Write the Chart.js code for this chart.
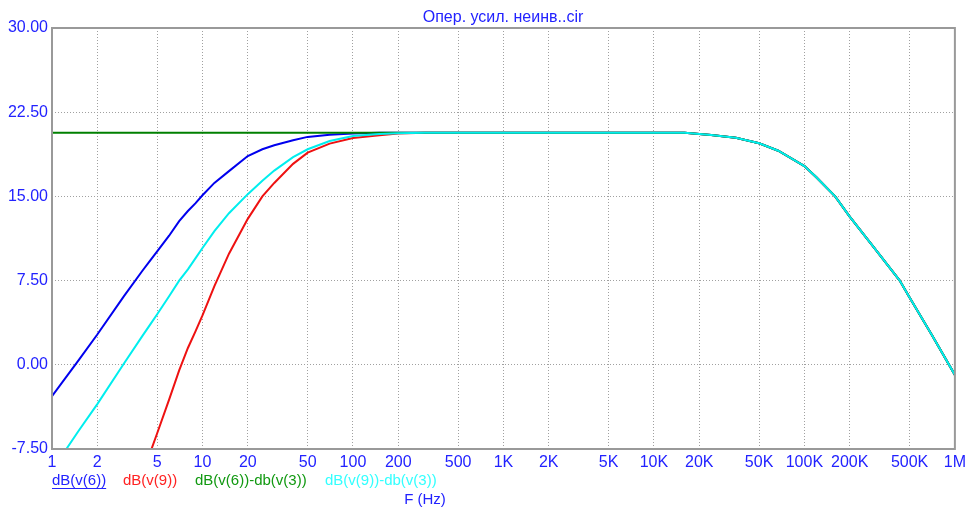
<!DOCTYPE html>
<html>
<head>
<meta charset="utf-8">
<script src="https://cdn.jsdelivr.net/npm/chart.js@4/dist/chart.umd.min.js"></script>
<style>
  body { margin: 0; background: #fff; }
  #wrap { width: 970px; height: 507px; }
</style>
</head>
<body>
<div id="wrap"><canvas id="bode"></canvas></div>
<script>
// frequency points (Hz) and the values (dB)
const freq = [1, 1.5, 2, 3, 4, 4.5, 5, 6, 7, 8, 9,
  10, 12, 15, 20, 25, 30, 40, 50, 70, 100,
  150, 200, 300, 500, 1000, 2000, 5000, 10000, 16000, 24000,
  35000, 50000, 67000, 100000, 120000, 160000, 200000, 300000, 430000, 500000,
  700000, 1000000];

const dbV6 = [-2.8, 0.4, 2.7, 6.1, 8.4, 9.3, 10.1, 11.5, 12.8, 13.7, 14.4,
  15.1, 16.2, 17.25, 18.6, 19.2, 19.55, 20.0, 20.3, 20.5, 20.6,
  20.66, 20.68, 20.68, 20.68, 20.68, 20.68, 20.68, 20.68, 20.68, 20.47,
  20.23, 19.73, 19.07, 17.7, 16.7, 15.0, 13.2, 10.2, 7.5, 6.0,
  2.7, -0.9];

const dbV9 = [null, null, null, null, -9.9, -7.8, -6.1, -3.1, -0.5, 1.5, 3.0,
  4.4, 7.0, 9.9, 13.0, 15.0, 16.2, 17.9, 18.9, 19.7, 20.2,
  20.44, 20.6, 20.66, 20.68, 20.68, 20.68, 20.68, 20.68, 20.68, 20.47,
  20.23, 19.73, 19.07, 17.7, 16.7, 15.0, 13.2, 10.2, 7.5, 6.0,
  2.7, -0.9];

const dbV6minusV3 = [20.68, 20.68, 20.68, 20.68, 20.68, 20.68, 20.68, 20.68, 20.68, 20.68, 20.68,
  20.68, 20.68, 20.68, 20.68, 20.68, 20.68, 20.68, 20.68, 20.68, 20.68,
  20.68, 20.68, 20.68, 20.68, 20.68, 20.68, 20.68, 20.68, 20.68, 20.47,
  20.23, 19.73, 19.07, 17.7, 16.7, 15.0, 13.2, 10.2, 7.5, 6.0,
  2.7, -0.9];

const dbV9minusV3 = [-9.4, -5.9, -3.5, 0.1, 2.6, 3.6, 4.5, 6.1, 7.5, 8.5, 9.5,
  10.4, 11.9, 13.5, 15.2, 16.4, 17.3, 18.5, 19.2, 19.94, 20.38,
  20.55, 20.62, 20.66, 20.68, 20.68, 20.68, 20.68, 20.68, 20.68, 20.47,
  20.23, 19.73, 19.07, 17.7, 16.7, 15.0, 13.2, 10.2, 7.5, 6.0,
  2.7, -0.9];

const seriesNames = ["dB(v(6))", "dB(v(9))", "dB(v(6))-db(v(3))", "dB(v(9))-db(v(3))"];
const seriesColors = ["#0000ee", "#ee1111", "#008000", "#00eeee"];
const legendTextColors = ["#2222ff", "#ff2222", "#119911", "#33ffff"];

const xTicks = [1, 2, 5, 10, 20, 50, 100, 200, 500, 1000, 2000, 5000,
  10000, 20000, 50000, 100000, 200000, 500000, 1000000];
const xTickLabels = ["1", "2", "5", "10", "20", "50", "100", "200", "500", "1K", "2K", "5K",
  "10K", "20K", "50K", "100K", "200K", "500K", "1M"];
const yTicks = [-7.5, 0, 7.5, 15, 22.5, 30];

const chartTitle = "Опер. усил. неинв..cir";
const xTitle = "F (Hz)";

const blueText = "#2222ff";
const FONT = "'Liberation Sans', Arial, sans-serif";

function pts(vals) {
  return freq.map((f, i) => ({ x: f, y: vals[i] }));
}

// frame, title, legend and axis caption drawn straight on the canvas
const decor = {
  id: "decor",
  afterDatasetsDraw(chart) {
    const { ctx, chartArea: a } = chart;
    ctx.save();
    ctx.strokeStyle = "#999999";
    ctx.lineWidth = 2;
    ctx.strokeRect(a.left, a.top, a.right - a.left, a.bottom - a.top);
    ctx.restore();
  },
  afterDraw(chart) {
    const { ctx, chartArea: a } = chart;
    ctx.save();
    ctx.font = "16px " + FONT;
    ctx.fillStyle = blueText;
    ctx.textAlign = "center";
    ctx.textBaseline = "middle";
    ctx.fillText(chartTitle, 503, a.top - 10);

    ctx.font = "15px " + FONT;
    ctx.textAlign = "left";
    const lx = [52, 123, 195, 325];
    const ly = a.bottom + 32;
    seriesNames.forEach((n, i) => {
      ctx.fillStyle = legendTextColors[i];
      ctx.fillText(n, lx[i], ly);
    });
    // first entry is underlined (selected trace)
    const w = ctx.measureText(seriesNames[0]).width;
    ctx.strokeStyle = legendTextColors[0];
    ctx.lineWidth = 1;
    ctx.beginPath();
    ctx.moveTo(lx[0], ly + 7.5);
    ctx.lineTo(lx[0] + w, ly + 7.5);
    ctx.stroke();

    ctx.fillStyle = blueText;
    ctx.textAlign = "center";
    ctx.fillText(xTitle, 425, a.bottom + 51);
    ctx.restore();
  }
};

new Chart(document.getElementById("bode"), {
  type: "line",
  data: {
    datasets: [
      { label: seriesNames[0], data: pts(dbV6), borderColor: seriesColors[0], order: 4 },
      { label: seriesNames[1], data: pts(dbV9), borderColor: seriesColors[1], order: 3 },
      { label: seriesNames[2], data: pts(dbV6minusV3), borderColor: seriesColors[2], order: 2 },
      { label: seriesNames[3], data: pts(dbV9minusV3), borderColor: seriesColors[3], order: 1 }
    ]
  },
  options: {
    responsive: true,
    maintainAspectRatio: false,
    animation: false,
    elements: {
      line: { borderWidth: 2, tension: 0 },
      point: { radius: 0 }
    },
    layout: { padding: { top: 28, right: 13, left: 0, bottom: 0 } },
    plugins: {
      legend: { display: false },
      title: { display: false },
      tooltip: { enabled: false }
    },
    scales: {
      x: {
        type: "logarithmic",
        min: 1,
        max: 1000000,
        afterBuildTicks: s => { s.ticks = xTicks.map(v => ({ value: v })); },
        afterFit: s => { s.height = 58; },
        grid: { color: "#a0a0a0", lineWidth: 1, drawTicks: false },
        border: { display: false, dash: [1, 2] },
        ticks: {
          autoSkip: false,
          maxRotation: 0,
          padding: 4,
          color: blueText,
          font: { family: FONT, size: 16 },
          callback: (v, i) => xTickLabels[i]
        }
      },
      y: {
        min: -7.5,
        max: 30,
        afterBuildTicks: s => { s.ticks = yTicks.map(v => ({ value: v })); },
        afterFit: s => { s.width = 52; },
        grid: { color: "#a0a0a0", lineWidth: 1, drawTicks: false },
        border: { display: false, dash: [1, 2] },
        ticks: {
          padding: 4,
          color: blueText,
          font: { family: FONT, size: 16 },
          callback: v => Number(v).toFixed(2)
        }
      }
    }
  },
  plugins: [decor]
});
</script>
</body>
</html>
